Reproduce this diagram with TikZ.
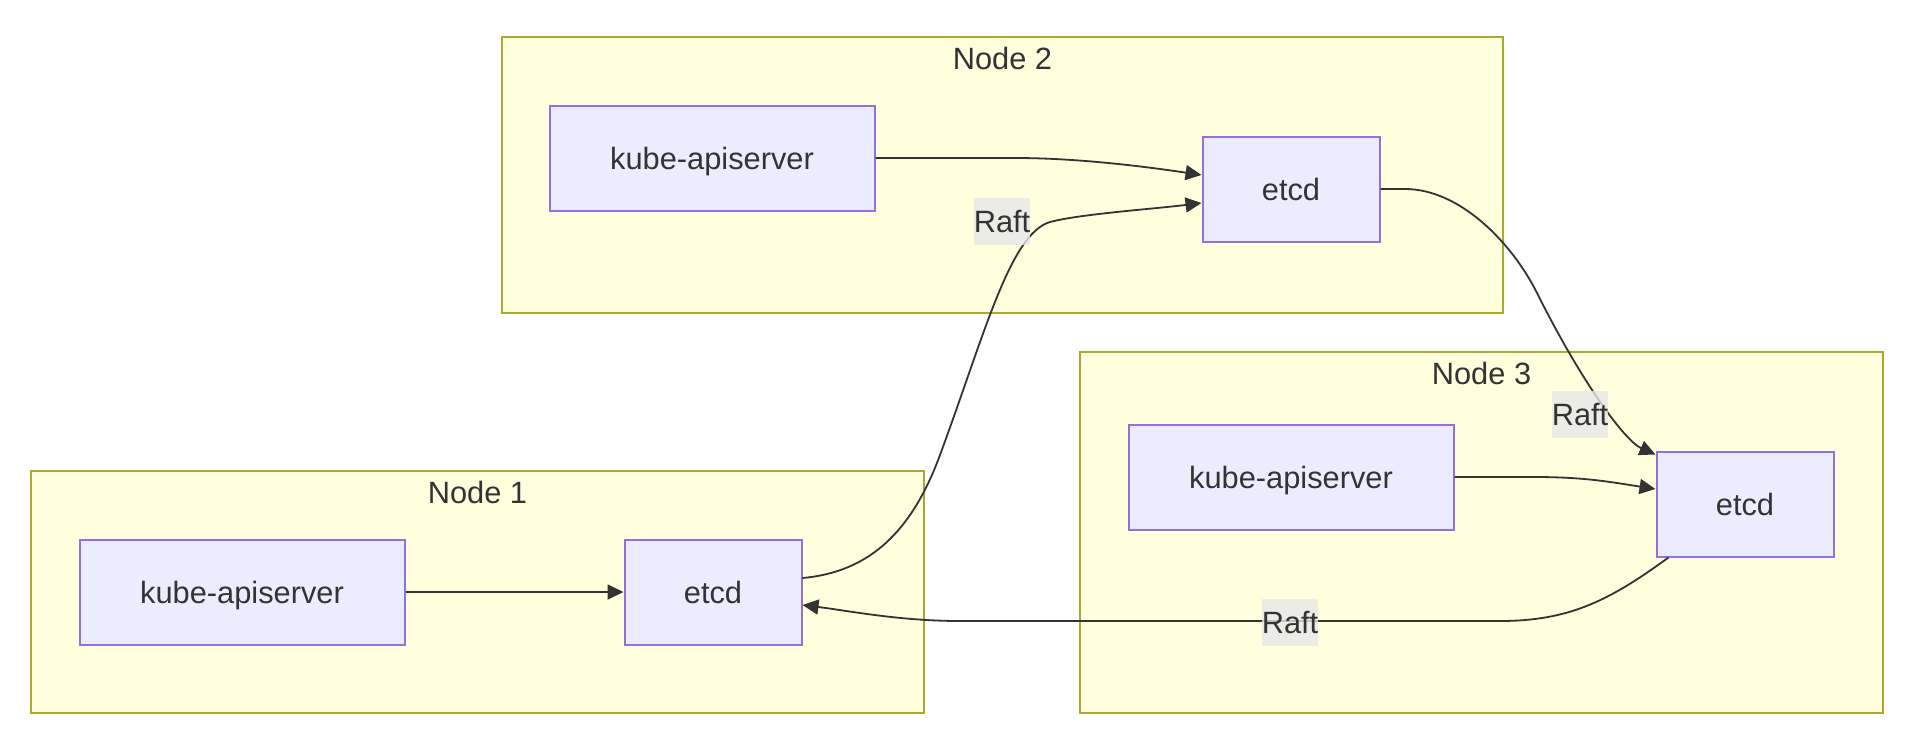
\documentclass[tikz,border=0pt]{standalone}
\usepackage{fontspec}
\setmainfont{Liberation Sans}
\usetikzlibrary{arrows.meta,calc}
\definecolor{clfill}{HTML}{FFFFDE}
\definecolor{clline}{HTML}{AAAA33}
\definecolor{ndfill}{HTML}{ECECFF}
\definecolor{ndline}{HTML}{9370DB}
\definecolor{edgecol}{HTML}{333333}
\definecolor{lblbg}{HTML}{E8E8E8}
\begin{document}
\begin{tikzpicture}[x=0.5pt,y=-0.5pt,
  every node/.style={font=\fontsize{15.4pt}{18pt}\selectfont, text=edgecol},
  cluster/.style={draw=clline, fill=clfill, line width=1pt, inner sep=0pt},
  box/.style={draw=ndline, fill=ndfill, line width=1pt, minimum height=52.5pt, text height=14pt, text depth=3pt, inner sep=0pt},
  kube/.style={box, minimum width=162.5pt},
  etcdbox/.style={box, minimum width=88.5pt},
  title/.style={anchor=base, inner sep=0pt},
  link/.style={draw=edgecol, line width=0.9pt, -{Triangle[length=8pt,width=7.5pt]}},
  lbl/.style={fill=lblbg, fill opacity=0.8, text opacity=1, inner xsep=0pt, inner ysep=0pt, minimum height=23.5pt, text height=14pt, text depth=3pt}
]
\useasboundingbox (0,0) rectangle (1928,734);

% clusters
\node[cluster, minimum width=500.5pt, minimum height=138pt] (c2) at (1002.5,175) {};
\node[cluster, minimum width=401.5pt, minimum height=180.5pt] (c3) at (1481.5,532.5) {};
\node[cluster, minimum width=446.5pt, minimum height=121pt] (c1) at (477.5,592) {};
\node[title] (t2) at ($(c2.north)+(0,33)$) {Node 2};
\node[title] (t3) at ($(c3.north)+(0,33)$) {Node 3};
\node[title] (t1) at ($(c1.north)+(0,33)$) {Node 1};

% nodes
\node[kube] (kube2) at (712,158) {kube-apiserver};
\node[etcdbox] (etcd2) at (1291,189) {etcd};
\node[kube] (kube1) at (242,592) {kube-apiserver};
\node[etcdbox] (etcd1) at (713,592) {etcd};
\node[kube] (kube3) at (1291,477) {kube-apiserver};
\node[etcdbox] (etcd3) at (1745,504) {etcd};

% anchor points
\coordinate (e2a) at ($(etcd2.west)+(0,-14)$);
\coordinate (e2b) at ($(etcd2.west)+(0,14)$);
\coordinate (e3a) at ($(etcd3.west)+(0,-15)$);
\coordinate (e3b) at ($(etcd3.north west)+(0,4)$);
\coordinate (e3c) at ($(etcd3.south west)+(13,0)$);
\coordinate (e1a) at ($(etcd1.east)+(0,-14)$);
\coordinate (e1b) at ($(etcd1.east)+(0,13)$);

% edges
\draw[link] (kube1) -- (etcd1);
\draw[link] (kube2.east) -- ++(140,0) .. controls +(60,0) and +(-60,-9) .. (e2a);
\draw[link] (kube3.east) -- ++(80,0) .. controls +(50,0) and +(-45,-7) .. (e3a);
\draw[link] (e1a) .. controls (870,572) and (912,531) .. (940,455)
  .. controls (985,333) and (1010,234) .. (1050,222)
  .. controls (1080,214) and (1153,209) .. (e2b);
\draw[link] (etcd2.east) -- (1405,189) .. controls (1460,189) and (1512,243) .. (1537,293)
  .. controls (1582,383) and (1625,441) .. (e3b);
\draw[link] (e3c) .. controls (1610,600) and (1570,621) .. (1500,621) -- (960,621)
  .. controls (900,621) and (850,611) .. (e1b);

% labels
\node[lbl] (l12) at (1002,221) {Raft};
\node[lbl] (l23) at (1580,414) {Raft};
\node[lbl] (l31) at (1290,622) {Raft};
\end{tikzpicture}
\end{document}
